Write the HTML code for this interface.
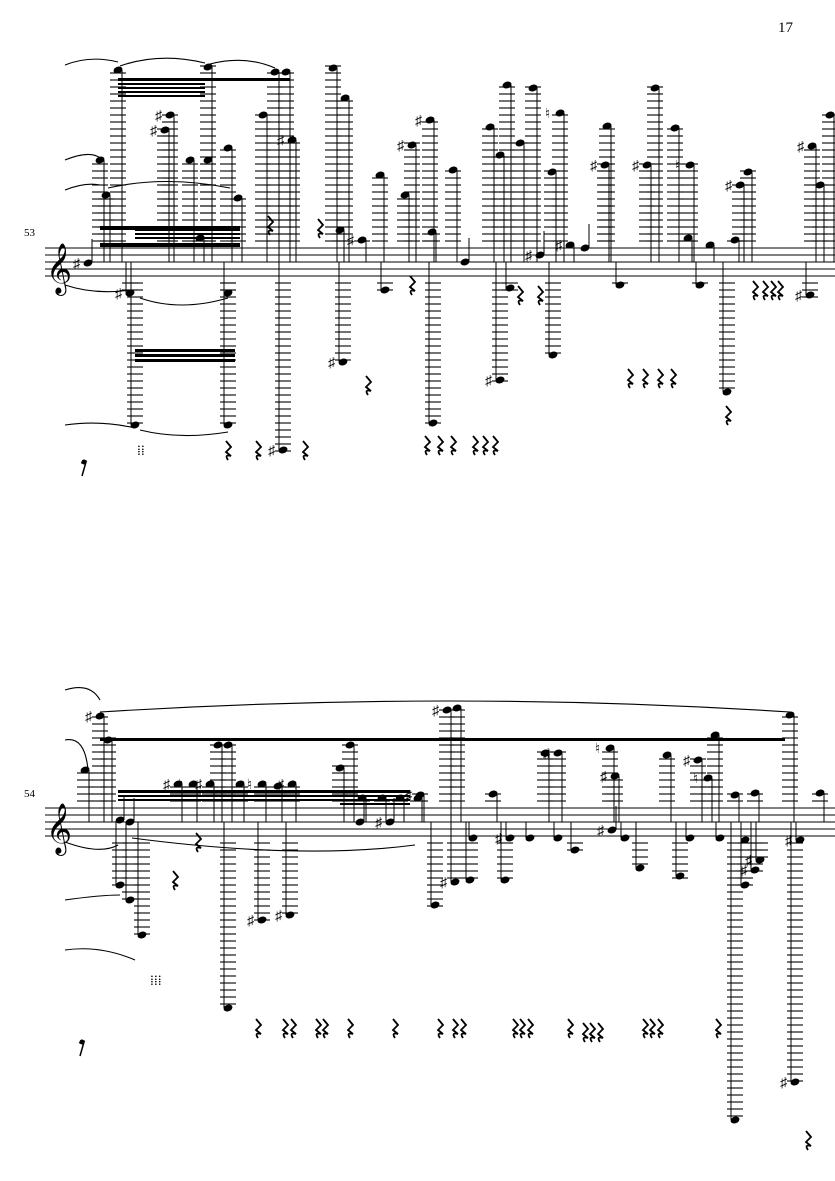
<!DOCTYPE html>
<html><head><meta charset="utf-8"><style>
html,body{margin:0;padding:0;background:#fff;}
svg{display:block;}
text{font-family:"Liberation Serif",serif;}
</style></head><body>
<svg id="s" width="835" height="1181" viewBox="0 0 835 1181" xmlns="http://www.w3.org/2000/svg">
<text x="778" y="32" font-size="15">17</text>
<text x="24" y="236" font-size="11">53</text>
<text x="24" y="797" font-size="11">54</text>
<g id="g" stroke="#000" fill="#000"></g>
</svg>
<script>
const g=document.getElementById('g');
const NS='http://www.w3.org/2000/svg';
function el(t,a){const e=document.createElementNS(NS,t);for(const k in a)e.setAttribute(k,a[k]);g.appendChild(e);return e;}
function line(x1,y1,x2,y2,w){el('line',{x1,y1,x2,y2,'stroke-width':w||1});}
function staff(top){for(let i=0;i<5;i++)line(45,top+i*7,835,top+i*7,0.9);}
function txt(x,y,s,fs){const e=el('text',{x,y,'font-size':fs||14,stroke:'none'});e.textContent=s;}
function note(top,x,y,acc){
  const bot=top+28;
  el('ellipse',{cx:x,cy:y,rx:4.6,ry:3.3,transform:`rotate(-20 ${x} ${y})`,stroke:'none'});
  if(y<top){
    for(let ly=top-7;ly>=y-2;ly-=7)line(x-8,ly,x+8,ly,1.1);
    line(x+4,y,x+4,top+14,1);
  } else if(y>bot){
    for(let ly=bot+7;ly<=y+2;ly+=7)line(x-8,ly,x+8,ly,1.1);
    line(x-4,y,x-4,bot-14,1);
  } else {
    line(x+4,y,x+4,y-24,1);
  }
  if(acc)txt(x-15,y+5,acc,14);
}
function rest(x,y){el('path',{d:`M${x-2} ${y-9} L${x+3} ${y-3} L${x-2} ${y+2} L${x+3} ${y+6} Q${x-4} ${y+4} ${x} ${y+10}`,fill:'none','stroke-width':1.8});}
function beam(x1,x2,y,h){el('rect',{x:x1,y:y,width:x2-x1,height:h||3,stroke:'none'});}
function slur(d){el('path',{d,fill:'none','stroke-width':1.1});}
function flagrest(x,y){el('circle',{cx:x,cy:y,r:2.5,stroke:'none'});line(x+2,y,x-2,y+14,1.5);line(x-3,y+1,x+3,y-1,1.2);}

const T1=248,T2=808;
staff(T1);staff(T2);
txt(46,283,'𝄞',44);txt(46,843,'𝄞',44);

[[88,263,'♯'],[100,160],[106,195],[118,70],[208,67],[275,72],[286,72],[165,130,'♯'],[170,115,'♯'],[190,160],[208,160],[238,198],[228,148],[263,115],[292,140,'♯'],[333,68],[345,98],[380,175],[412,145,'♯'],[430,120,'♯'],[405,195],[453,170],[490,127],[507,85],[533,88],[500,155],[520,143],[552,172],[560,113,'♮'],[607,126],[605,165,'♯'],[655,88],[647,165,'♯'],[675,128],[690,165,'♮'],[740,185,'♯'],[748,172],[812,146,'♯'],[830,115],[820,185],[340,230],[362,240,'♯'],[432,232],[465,262],[540,255,'♯'],[570,245,'♯'],[585,248],[710,245],[735,240],[688,238]]
.forEach(n=>note(T1,...n));
[[135,425],[228,425],[130,293,'♯'],[228,293],[283,450,'♯'],[343,362,'♯'],[433,423],[500,380,'♯'],[553,355],[727,392],[200,238],[385,290],[510,288],[620,285],[700,285],[810,295,'♯']]
.forEach(n=>note(T1,...n));
beam(118,290,78,3);beam(118,205,83,2);beam(118,205,87,2);beam(118,205,91,2);beam(118,205,95,2);
beam(100,240,226,4);beam(100,240,243,4);beam(135,240,229,2);beam(135,240,233,2);beam(135,240,237,2);
beam(135,235,349,3);beam(135,235,354,3);beam(135,235,359,3);
[[228,450],[258,450],[305,450],[427,445],[440,445],[453,445],[475,445],[485,445],[495,445],[368,385],[630,378],[645,378],[660,378],[673,378],[728,415],[412,285],[520,295],[540,295],[270,225],[320,228],[755,290],[765,290],[773,290],[780,290]].forEach(r=>rest(...r));
flagrest(84,462);txt(137,455,'⁞⁞',14);
slur('M65 65 Q90 55 118 62');slur('M120 66 Q160 52 205 63');slur('M210 64 Q245 55 275 68');
slur('M65 160 Q90 150 100 158');slur('M108 188 Q165 175 230 188');slur('M65 285 Q95 295 130 290');
slur('M140 298 Q180 312 228 298');slur('M65 425 Q100 420 135 428');slur('M140 430 Q180 440 228 432');
slur('M65 190 Q85 182 100 185');

[[100,716,'♯'],[108,740],[85,770],[218,745],[228,745],[350,745],[340,768],[447,710,'♯'],[457,708],[420,795,'♯'],[493,794],[545,753],[558,753,'♯'],[610,748,'♮'],[615,776,'♯'],[667,755],[715,735],[698,760,'♯'],[708,778,'♮'],[790,715],[735,795],[755,793],[820,793],[178,784,'♯'],[193,784,'♮'],[210,784,'♯'],[240,784],[262,784,'♮'],[278,786],[292,784,'♯'],[362,798],[382,798],[400,798],[418,798],[473,838],[510,838,'♯'],[530,838],[558,838],[612,830,'♯'],[625,838],[690,838],[720,838],[745,840],[800,840,'♯'],[120,820],[130,822],[360,822],[390,822,'♯']]
.forEach(n=>note(T2,...n));
[[142,935],[228,1008],[262,920,'♯'],[290,915,'♯'],[435,905],[795,1082,'♯'],[735,1120],[455,882,'♯'],[470,880],[505,880],[575,850],[640,868],[680,876],[755,870,'♯'],[745,885],[120,885],[130,900],[760,860,'♯']]
.forEach(n=>note(T2,...n));
beam(100,785,738,3);beam(118,410,790,3);beam(118,410,795,2);beam(118,410,799,2);beam(340,410,803,2);
[[258,1028],[285,1028],[293,1028],[318,1028],[325,1028],[350,1028],[395,1028],[440,1028],[455,1028],[463,1028],[515,1028],[522,1028],[530,1028],[570,1028],[585,1032],[592,1032],[600,1032],[645,1028],[652,1028],[660,1028],[718,1028],[808,1140],[175,880],[198,842]].forEach(r=>rest(...r));
flagrest(82,1042);txt(150,985,'⁞⁞⁞',14);
slur('M100 712 Q450 690 790 712');slur('M65 690 Q90 682 100 700');slur('M65 740 Q85 736 88 770');
slur('M65 842 Q100 855 118 845');slur('M132 838 Q300 860 415 845');slur('M65 900 Q100 895 120 895');
slur('M65 950 Q100 945 135 960');
</script>
</body></html>
